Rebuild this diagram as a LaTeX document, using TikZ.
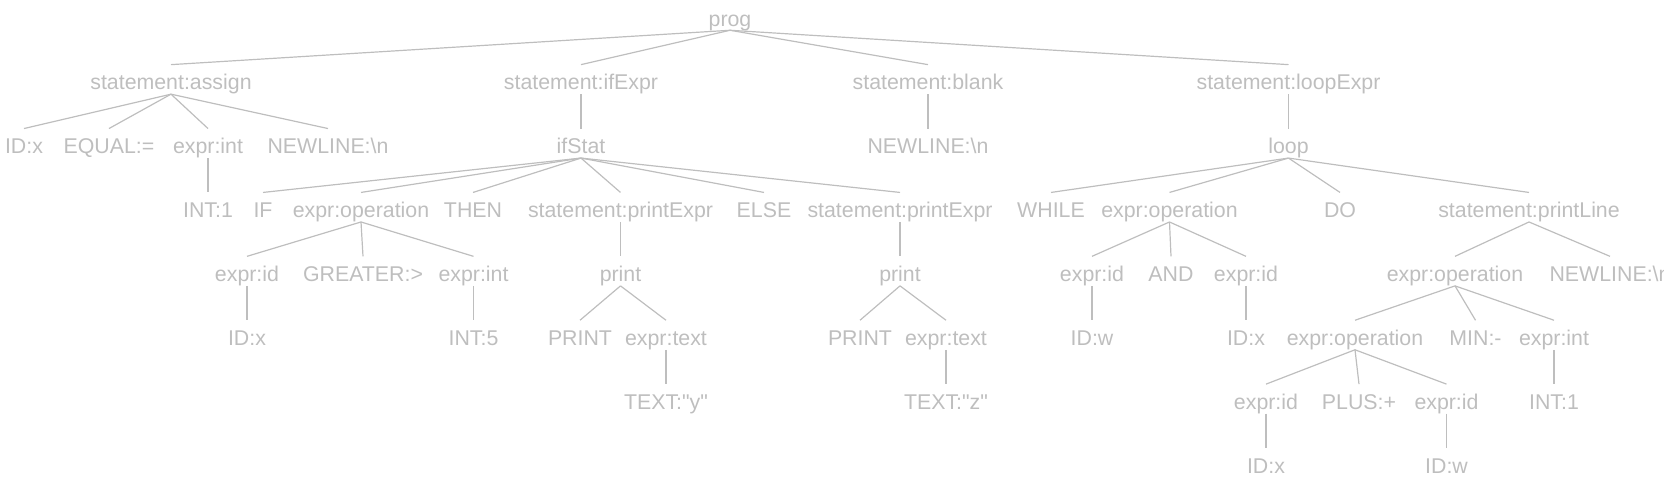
\documentclass[tikz,border=0pt]{standalone}
\usepackage{fontspec}
\setmainfont{Liberation Sans}
\usepackage{tikz}
\definecolor{treegray}{RGB}{190,190,190}

\begin{document}
\begin{tikzpicture}[x=0.75pt, y=-0.75pt,
    tok/.style={text=treegray, font=\fontsize{16pt}{19pt}\selectfont, inner sep=0pt, anchor=base, text height=18.75pt, text depth=3pt},
    edge/.style={draw=treegray, line width=0.9pt}]
    \clip (0,0) rectangle (1664,494);
    \node (prog) at (730, 26)[tok]{prog};

    \node (SA) at (171, 89.9)[tok]{statement:assign};
    \node (SI) at (581, 89.9)[tok]{statement:ifExpr};
    \node (SB) at (928, 89.9)[tok]{statement:blank};
    \node (SL) at (1288.5, 89.9)[tok]{statement:loopExpr};

    \node (IDx1) at (24, 153.8)[tok]{ID:x};
    \node (EQ) at (109, 153.8)[tok]{EQUAL:=};
    \node (EI1) at (208, 153.8)[tok]{expr:int};
    \node (NL1) at (328, 153.8)[tok]{NEWLINE:\textbackslash n};
    \node (IFS) at (581, 153.8)[tok]{ifStat};
    \node (NL2) at (928, 153.8)[tok]{NEWLINE:\textbackslash n};
    \node (LOOP) at (1288.5, 153.8)[tok]{loop};

    \node (INT1) at (208, 217.7)[tok]{INT:1};
    \node (IF) at (263, 217.7)[tok]{IF};
    \node (EO1) at (361, 217.7)[tok]{expr:operation};
    \node (THEN) at (473, 217.7)[tok]{THEN};
    \node (SP1) at (620.5, 217.7)[tok]{statement:printExpr};
    \node (ELSE) at (764, 217.7)[tok]{ELSE};
    \node (SP2) at (900, 217.7)[tok]{statement:printExpr};
    \node (WHILE) at (1051, 217.7)[tok]{WHILE};
    \node (EO2) at (1169.5, 217.7)[tok]{expr:operation};
    \node (DO) at (1340, 217.7)[tok]{DO};
    \node (SPL) at (1529, 217.7)[tok]{statement:printLine};

    \node (EID1) at (247, 281.6)[tok]{expr:id};
    \node (GT) at (363, 281.6)[tok]{GREATER:>};
    \node (EI2) at (473.5, 281.6)[tok]{expr:int};
    \node (PR1) at (620.5, 281.6)[tok]{print};
    \node (PR2) at (900, 281.6)[tok]{print};
    \node (EID2) at (1092, 281.6)[tok]{expr:id};
    \node (AND) at (1171, 281.6)[tok]{AND};
    \node (EID3) at (1246, 281.6)[tok]{expr:id};
    \node (EO3) at (1455, 281.6)[tok]{expr:operation};
    \node (NL3) at (1610, 281.6)[tok]{NEWLINE:\textbackslash n};

    \node (IDx2) at (247, 345.5)[tok]{ID:x};
    \node (INT5) at (473.5, 345.5)[tok]{INT:5};
    \node (PRT1) at (580, 345.5)[tok]{PRINT};
    \node (ET1) at (666, 345.5)[tok]{expr:text};
    \node (PRT2) at (860, 345.5)[tok]{PRINT};
    \node (ET2) at (946, 345.5)[tok]{expr:text};
    \node (IDw1) at (1092, 345.5)[tok]{ID:w};
    \node (IDx3) at (1246, 345.5)[tok]{ID:x};
    \node (EO4) at (1355, 345.5)[tok]{expr:operation};
    \node (MIN) at (1475.5, 345.5)[tok]{MIN:-};
    \node (EI3) at (1554, 345.5)[tok]{expr:int};

    \node (TY) at (666, 409.4)[tok]{TEXT:\textquotedbl y\textquotedbl};
    \node (TZ) at (946, 409.4)[tok]{TEXT:\textquotedbl z\textquotedbl};
    \node (EID4) at (1266, 409.4)[tok]{expr:id};
    \node (PLUS) at (1359, 409.4)[tok]{PLUS:+};
    \node (EID5) at (1446.5, 409.4)[tok]{expr:id};
    \node (INT1b) at (1554, 409.4)[tok]{INT:1};

    \node (IDx4) at (1266, 473.3)[tok]{ID:x};
    \node (IDw2) at (1446.5, 473.3)[tok]{ID:w};

    \foreach \p/\c in {prog/SA, prog/SI, prog/SB, prog/SL,
        SA/IDx1, SA/EQ, SA/EI1, SA/NL1, EI1/INT1,
        SI/IFS, IFS/IF, IFS/EO1, IFS/THEN, IFS/SP1, IFS/ELSE, IFS/SP2,
        EO1/EID1, EO1/GT, EO1/EI2, EID1/IDx2, EI2/INT5,
        SP1/PR1, PR1/PRT1, PR1/ET1, ET1/TY,
        SP2/PR2, PR2/PRT2, PR2/ET2, ET2/TZ, SB/NL2,
        SL/LOOP, LOOP/WHILE, LOOP/EO2, LOOP/DO, LOOP/SPL,
        EO2/EID2, EO2/AND, EO2/EID3, EID2/IDw1, EID3/IDx3,
        SPL/EO3, SPL/NL3, EO3/EO4, EO3/MIN, EO3/EI3, EI3/INT1b,
        EO4/EID4, EO4/PLUS, EO4/EID5, EID4/IDx4, EID5/IDw2}{
        \draw[edge] (\p.south) -- (\c.north);
    }
\end{tikzpicture}
\end{document}
